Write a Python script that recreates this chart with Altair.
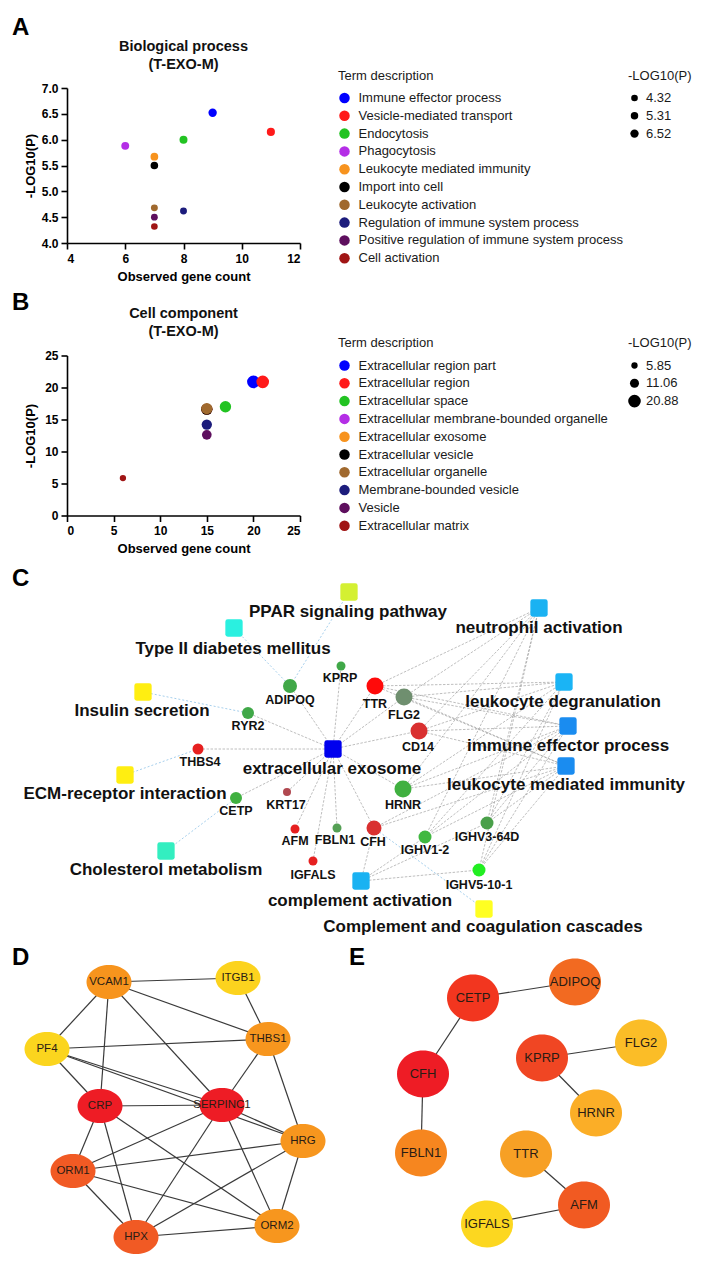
import altair as alt
import pandas as pd

FONT = "Liberation Sans"

# ---------------- Panel A: Biological process (T-EXO-M) ----------------
terms_A = ["Immune effector process", "Vesicle-mediated transport", "Endocytosis",
           "Phagocytosis", "Leukocyte mediated immunity", "Import into cell",
           "Leukocyte activation", "Regulation of immune system process",
           "Positive regulation of immune system process", "Cell activation"]
count_A = [9, 11, 8, 6, 7, 7, 7, 8, 7, 7]
logp_A = [6.52, 6.15, 6.00, 5.88, 5.67, 5.50, 4.68, 4.62, 4.50, 4.32]
xticks_A = [4, 6, 8, 10, 12]
yticks_A = [4.0, 4.5, 5.0, 5.5, 6.0, 6.5, 7.0]
sizekeys_A = [4.32, 5.31, 6.52]

# ---------------- Panel B: Cell component (T-EXO-M) ----------------
terms_B = ["Extracellular region part", "Extracellular region", "Extracellular space",
           "Extracellular membrane-bounded organelle", "Extracellular exosome",
           "Extracellular vesicle", "Extracellular organelle", "Membrane-bounded vesicle",
           "Vesicle", "Extracellular matrix"]
count_B = [20, 21, 17, 15, 15, 15, 15, 15, 15, 6]
logp_B = [20.88, 20.88, 17.0, 16.6, 16.6, 16.6, 16.7, 14.2, 12.6, 5.85]
xticks_B = [0, 5, 10, 15, 20, 25]
yticks_B = [0, 5, 10, 15, 20, 25]
sizekeys_B = [5.85, 11.06, 20.88]

term_colors = ["#0000ff", "#ff1a1a", "#22c322", "#b42ee6", "#f7931e", "#000000",
               "#a0692e", "#1c1c7c", "#5e0f5e", "#a01515"]

# ---------------- Panel C: enrichment network ----------------
c_terms = ["PPAR signaling pathway", "Type II diabetes mellitus", "neutrophil activation",
           "Insulin secretion", "leukocyte degranulation", "immune effector process",
           "extracellular exosome", "leukocyte mediated immunity", "ECM-receptor interaction",
           "Cholesterol metabolism", "complement activation",
           "Complement and coagulation cascades"]
c_term_x = [349, 234, 539, 143, 564, 568, 333, 566, 125, 166, 361, 484]
c_term_y = [590, 626, 606, 690, 680, 724, 747, 764, 773, 849, 879, 907]
c_term_lx = [348, 233, 539, 142, 563, 568, 332, 566, 125, 166, 360, 483]
c_term_ly = [610, 647, 626, 709, 700, 744, 767, 783, 792, 868, 899, 925]
c_term_col = ["#d4f032", "#2af0e0", "#1ab2f2", "#ffee11", "#1ab4f5", "#1a8cf0",
              "#0000ee", "#1a8cf0", "#ffee11", "#33eec0", "#1ab2f2", "#ffff22"]

c_genes = ["KPRP", "ADIPOQ", "TTR", "FLG2", "RYR2", "CD14", "THBS4", "HRNR", "CETP",
           "KRT17", "AFM", "FBLN1", "CFH", "IGFALS", "IGHV1-2", "IGHV3-64D", "IGHV5-10-1"]
c_gene_x = [341, 290, 375, 404, 248, 419, 198, 403, 236, 287, 295, 337, 374, 313, 425, 487, 479]
c_gene_y = [664, 684, 684, 695, 711, 729, 747, 787, 796, 790, 827, 826, 826, 859, 835, 821, 868]
c_gene_lx = [340, 290, 375, 404, 248, 418, 200, 403, 236, 286, 295, 335, 373, 313, 425, 487, 479]
c_gene_ly = [676, 698, 702, 713, 724, 745, 760, 803, 809, 803, 839, 838, 840, 873, 848, 835, 883]
c_gene_col = ["#40a848", "#40a848", "#ff0a0a", "#6f8f6f", "#40a848", "#d93030", "#e62020",
              "#40b040", "#40b040", "#b04850", "#e62020", "#55a055", "#d93030", "#e62020",
              "#40b840", "#4aa04a", "#22ee22"]
c_gene_d = [9, 14, 17, 17, 12, 17, 11, 17, 12, 8, 9, 9, 15, 9, 13, 13, 13]

exo_genes = ["KPRP", "ADIPOQ", "TTR", "FLG2", "RYR2", "CD14", "THBS4", "HRNR", "CETP",
             "KRT17", "AFM", "FBLN1", "CFH", "IGFALS"]
imm_genes = ["TTR", "FLG2", "CD14", "HRNR", "IGHV1-2", "IGHV3-64D", "IGHV5-10-1"]
imm_terms = ["neutrophil activation", "leukocyte degranulation", "immune effector process",
             "leukocyte mediated immunity"]
cfh_terms = ["immune effector process", "leukocyte mediated immunity", "complement activation"]
compl_genes = ["IGHV1-2", "IGHV3-64D", "IGHV5-10-1"]
kegg_edges = [("PPAR signaling pathway", "ADIPOQ"), ("Type II diabetes mellitus", "ADIPOQ"),
              ("Insulin secretion", "RYR2"), ("ECM-receptor interaction", "THBS4"),
              ("Cholesterol metabolism", "CETP"), ("Complement and coagulation cascades", "CFH")]

# ---------------- Panel D: PPI hub network ----------------
d_nodes = ["VCAM1", "ITGB1", "PF4", "THBS1", "CRP", "SERPINC1", "HRG", "ORM1", "ORM2", "HPX"]
d_x = [109, 238, 47, 268, 100, 222, 303, 73, 277, 136]
d_y = [980, 976, 1047, 1037, 1104, 1103, 1139, 1169, 1224, 1235]
d_col = ["#f7941d", "#fcd31e", "#fbd51e", "#f7961e", "#ee1c25", "#ee1c25", "#f7961e",
         "#f15a24", "#f7961e", "#f15a24"]
d_edges = [("VCAM1", "ITGB1"), ("VCAM1", "THBS1"), ("VCAM1", "PF4"), ("VCAM1", "CRP"),
           ("VCAM1", "SERPINC1"), ("ITGB1", "THBS1"), ("PF4", "THBS1"), ("PF4", "CRP"),
           ("PF4", "SERPINC1"), ("PF4", "HRG"), ("CRP", "SERPINC1"), ("CRP", "ORM1"),
           ("CRP", "HPX"), ("CRP", "ORM2"), ("THBS1", "SERPINC1"), ("THBS1", "HRG"),
           ("SERPINC1", "ORM1"), ("SERPINC1", "HPX"), ("SERPINC1", "ORM2"), ("SERPINC1", "HRG"),
           ("HRG", "ORM1"), ("HRG", "HPX"), ("HRG", "ORM2"), ("ORM1", "HPX"), ("ORM1", "ORM2"),
           ("HPX", "ORM2")]

# ---------------- Panel E: PPI sub-networks ----------------
e_nodes = ["CETP", "ADIPOQ", "FLG2", "KPRP", "CFH", "HRNR", "FBLN1", "TTR", "AFM", "IGFALS"]
e_x = [473, 575, 641, 542, 423, 596, 421, 526, 584, 487]
e_y = [996, 980, 1041, 1056, 1072, 1111, 1151, 1152, 1203, 1222]
e_col = ["#f2361f", "#f26a21", "#fbbd27", "#f04623", "#ee1c25", "#fbae27", "#f6861f",
         "#f7a025", "#f15a22", "#fcd720"]
e_edges = [("CETP", "ADIPOQ"), ("CETP", "CFH"), ("CFH", "FBLN1"), ("KPRP", "FLG2"),
           ("KPRP", "HRNR"), ("TTR", "AFM"), ("AFM", "IGFALS")]

panel_letters = ["C", "D", "E"]
letter_x = [12, 12, 349]
letter_y = [565, 944, 944]

# =====================================================================
AX = dict(domainColor="black", domainWidth=1.6, tickColor="black", tickWidth=1.6, tickSize=6,
          labelFont=FONT, labelFontSize=12, labelFontWeight="bold", labelColor="black",
          titleFont=FONT, titleFontSize=13, titleFontWeight="bold", titleColor="black",
          grid=False)
LEG = dict(orient="none", legendY=-18.5, direction="vertical", padding=0,
           titleFont=FONT, titleFontSize=13, titleFontWeight="normal", titleColor="#1a1a1a",
           titlePadding=9, labelFont=FONT, labelFontSize=13, labelColor="#1a1a1a",
           labelLimit=500, symbolType="circle", symbolStrokeWidth=0, rowPadding=3.8)


def go_panel(letter, title, terms, counts, logp, xdom, xticks, ydom, yticks, yfmt,
             sizekeys, size_range, height, letter_dy, title_dy):
    W = 233
    df = pd.DataFrame({"term": terms, "count": counts, "logp": logp,
                       "idx": list(range(len(terms)))})
    pts = alt.Chart(df).mark_circle(opacity=1).encode(
        x=alt.X("count:Q", scale=alt.Scale(domain=xdom, nice=False, zero=False),
                axis=alt.Axis(values=xticks, format="d", title="Observed gene count",
                              labelPadding=4, titlePadding=6, **AX)),
        y=alt.Y("logp:Q", scale=alt.Scale(domain=ydom, nice=False, zero=False),
                axis=alt.Axis(values=yticks, format=yfmt, title="-LOG10(P)", labelPadding=3,
                              titlePadding=3, minExtent=27, maxExtent=27, **AX)),
        color=alt.Color("term:N", scale=alt.Scale(domain=terms, range=term_colors),
                        legend=alt.Legend(title="Term description", legendX=271,
                                          symbolSize=110, labelOffset=7.5, **LEG)),
        size=alt.Size("logp:Q", scale=alt.Scale(domain=[sizekeys[0], sizekeys[-1]],
                                                range=size_range),
                      legend=alt.Legend(title="-LOG10(P)", legendX=561, values=sizekeys,
                                        format=".2f", symbolFillColor="black",
                                        labelOffset=5, **LEG)),
        order=alt.Order("idx:Q"),
    )
    letter_l = alt.Chart(pd.DataFrame({"t": [letter]})).mark_text(
        align="left", baseline="top", font=FONT, fontSize=24, fontWeight="bold",
        color="black").encode(text="t:N", x=alt.value(-55), y=alt.value(letter_dy))
    title_l = alt.Chart(pd.DataFrame({"t": [title]})).mark_text(
        align="center", baseline="top", font=FONT, fontSize=14.5, fontWeight="bold",
        color="#111", lineBreak="\n", lineHeight=18).encode(
        text="t:N", x=alt.value(W / 2), y=alt.value(title_dy))
    return alt.layer(pts, letter_l, title_l).properties(width=W, height=height)


panelA = go_panel("A", "Biological process\n(T-EXO-M)", terms_A, count_A, logp_A, [4, 12],
                  xticks_A, [4, 7], yticks_A, ".1f", sizekeys_A, [44, 70], 155, -72, -48)
panelB = go_panel("B", "Cell component\n(T-EXO-M)", terms_B, count_B, logp_B, [0, 25],
                  xticks_B, [0, 25], yticks_B, "d", sizekeys_B, [40, 160], 160, -65, -49)

# ---------------- networks C, D, E in one layout frame ----------------
X0, Y0 = 67, 561
FW, FH = 635, 694
sx = alt.Scale(domain=[X0, X0 + FW], nice=False, zero=False)
sy = alt.Scale(domain=[Y0, Y0 + FH], nice=False, zero=False, reverse=True)


def XE(f):
    return alt.X(f"{f}:Q", scale=sx, axis=None)


def YE(f):
    return alt.Y(f"{f}:Q", scale=sy, axis=None)


pos = {}
for n, x, y in zip(c_terms, c_term_x, c_term_y):
    pos[("C", n)] = (x, y)
for n, x, y in zip(c_genes, c_gene_x, c_gene_y):
    pos[("C", n)] = (x, y)
for n, x, y in zip(d_nodes, d_x, d_y):
    pos[("D", n)] = (x, y)
for n, x, y in zip(e_nodes, e_x, e_y):
    pos[("E", n)] = (x, y)


def edge_df(panel, pairs):
    rows = []
    for a, b in pairs:
        (x1, y1), (x2, y2) = pos[(panel, a)], pos[(panel, b)]
        rows.append({"x": x1, "y": y1, "x2": x2, "y2": y2})
    return pd.DataFrame(rows)


gray_pairs = [("extracellular exosome", g) for g in exo_genes]
gray_pairs += [(g, t) for g in imm_genes for t in imm_terms]
gray_pairs += [("CFH", t) for t in cfh_terms]
gray_pairs += [(g, "complement activation") for g in compl_genes]

e_gray = alt.Chart(edge_df("C", gray_pairs)).mark_rule(
    color="#9a9a9a", strokeWidth=0.65, strokeDash=[2.5, 1.5]).encode(
    x=XE("x"), y=YE("y"), x2="x2:Q", y2="y2:Q")
e_kegg = alt.Chart(edge_df("C", kegg_edges)).mark_rule(
    color="#9cc9ea", strokeWidth=0.9, strokeDash=[2, 2]).encode(
    x=XE("x"), y=YE("y"), x2="x2:Q", y2="y2:Q")
e_D = alt.Chart(edge_df("D", d_edges)).mark_rule(color="#3a3a3a", strokeWidth=1.2).encode(
    x=XE("x"), y=YE("y"), x2="x2:Q", y2="y2:Q")
e_E = alt.Chart(edge_df("E", e_edges)).mark_rule(color="#3a3a3a", strokeWidth=1.2).encode(
    x=XE("x"), y=YE("y"), x2="x2:Q", y2="y2:Q")

ROUNDSQ = ("M-0.72,-1L0.72,-1Q1,-1,1,-0.72L1,0.72Q1,1,0.72,1L-0.72,1Q-1,1,-1,0.72"
           "L-1,-0.72Q-1,-1,-0.72,-1Z")
df_ct = pd.DataFrame({"n": c_terms, "x": c_term_x, "y": c_term_y, "col": c_term_col,
                      "lx": c_term_lx, "ly": c_term_ly})
sq = alt.Chart(df_ct).mark_point(shape=ROUNDSQ, filled=True, size=300, opacity=1,
                                 strokeWidth=0).encode(
    x=XE("x"), y=YE("y"), color=alt.Color("col:N", scale=None))
df_cg = pd.DataFrame({"n": c_genes, "x": c_gene_x, "y": c_gene_y, "col": c_gene_col,
                      "s": [d * d for d in c_gene_d], "lx": c_gene_lx, "ly": c_gene_ly})
circ = alt.Chart(df_cg).mark_circle(opacity=1).encode(
    x=XE("x"), y=YE("y"), color=alt.Color("col:N", scale=None),
    size=alt.Size("s:Q", scale=None))
lab_t = alt.Chart(df_ct).mark_text(font=FONT, fontSize=17, fontWeight="bold", color="#111",
                                   baseline="middle").encode(
    x=XE("lx"), y=YE("ly"), text="n:N")
lab_g = alt.Chart(df_cg).mark_text(font=FONT, fontSize=12.5, fontWeight="bold", color="#111",
                                   baseline="middle").encode(
    x=XE("lx"), y=YE("ly"), text="n:N")

ELL_D = "M-1,0A1,0.76,0,1,1,1,0A1,0.76,0,1,1,-1,0Z"
ELL_E = "M-1,0A1,0.9,0,1,1,1,0A1,0.9,0,1,1,-1,0Z"
df_d = pd.DataFrame({"n": d_nodes, "x": d_x, "y": d_y, "col": d_col})
df_e = pd.DataFrame({"n": e_nodes, "x": e_x, "y": e_y, "col": e_col})
n_D = alt.Chart(df_d).mark_point(shape=ELL_D, filled=True, size=45 * 45, opacity=1,
                                 strokeWidth=0).encode(
    x=XE("x"), y=YE("y"), color=alt.Color("col:N", scale=None))
n_E = alt.Chart(df_e).mark_point(shape=ELL_E, filled=True, size=52 * 52, opacity=1,
                                 strokeWidth=0).encode(
    x=XE("x"), y=YE("y"), color=alt.Color("col:N", scale=None))
l_D = alt.Chart(df_d).mark_text(font=FONT, fontSize=11.5, color="#2a1c14").encode(
    x=XE("x"), y=YE("y"), text="n:N")
l_E = alt.Chart(df_e).mark_text(font=FONT, fontSize=13, color="#2a1c14").encode(
    x=XE("x"), y=YE("y"), text="n:N")
lets = alt.Chart(pd.DataFrame({"t": panel_letters, "x": letter_x, "y": letter_y})).mark_text(
    align="left", baseline="top", font=FONT, fontSize=24, fontWeight="bold", color="black"
).encode(x=XE("x"), y=YE("y"), text="t:N")

panelCDE = alt.layer(e_gray, e_kegg, e_D, e_E, sq, circ, n_D, n_E, lab_t, lab_g, l_D, l_E,
                     lets).properties(width=FW, height=FH)

chart = alt.vconcat(panelA, panelB, panelCDE, spacing=7.5).resolve_scale(
    color="independent", size="independent").properties(
    padding={"left": 4, "top": 8, "right": 0, "bottom": 0}).configure_view(strokeWidth=0)

chart.save("out.html", embed_options={"renderer": "svg", "actions": False})
